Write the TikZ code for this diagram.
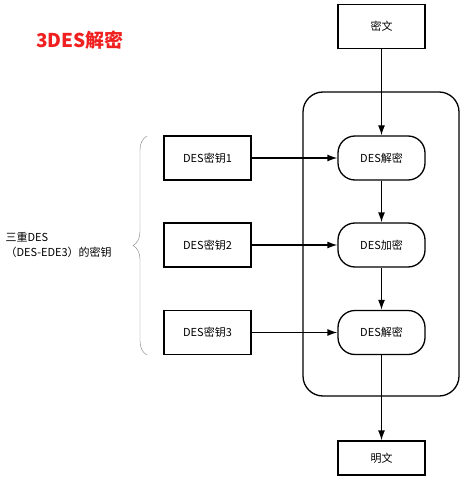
\documentclass[tikz,border=0pt]{standalone}
\usepackage{fontspec}
\setmainfont{Noto Sans CJK SC}
\usetikzlibrary{positioning,arrows.meta,decorations.pathreplacing}
\definecolor{titlered}{RGB}{240,32,32}
\begin{document}
\begin{tikzpicture}[x=1pt,y=-1pt,
                    box/.style={rectangle,draw,line width=1.3pt,minimum width=87pt,minimum height=44pt,font=\fontsize{11}{13}\selectfont},
                    pill/.style={rectangle,rounded corners=17pt,draw,line width=1.3pt,minimum width=87pt,minimum height=44pt,font=\fontsize{11}{13}\selectfont},
                    flow/.style={-{Latex[length=10pt,width=7pt]},line width=1.3pt}
                   ]
  \useasboundingbox (0,0) rectangle (466,489);
  \node[font=\fontsize{19}{22}\selectfont\bfseries,text=titlered] (title) at (80,40) {3DES解密};

  \node[box] (cipher) at (381.5,26.5) {密文};
  \node[pill] (dec1) at (381.5,158) {DES解密};
  \node[pill] (enc) at (381.5,245) {DES加密};
  \node[pill] (dec2) at (381.5,332.5) {DES解密};
  \node[box,minimum height=34pt] (plain) at (381.5,458) {明文};

  \node[box] (key1) at (207.5,158) {DES密钥1};
  \node[box] (key2) at (207.5,245) {DES密钥2};
  \node[box] (key3) at (207.5,332.5) {DES密钥3};

  % the three DES stages
  \draw[line width=1.3pt,rounded corners=20pt] (303,92) rectangle (459,396);

  \coordinate (bt) at (147,136);
  \coordinate (bb) at (147,355);
  \draw[gray,decorate,decoration={brace,amplitude=14pt}] (bb) -- (bt);
  \node[anchor=west,align=left,font=\fontsize{11}{15}\selectfont] (keys) at (2,245) {三重DES\\（DES-EDE3）的密钥};

  \path%
   (cipher) edge [flow] (dec1)
   (dec1) edge [flow] (enc)
   (enc) edge [flow] (dec2)
   (dec2) edge [flow] (plain)
   (key1) edge [flow] (dec1)
   (key2) edge [flow] (enc)
   (key3) edge [flow] (dec2);
\end{tikzpicture}
\end{document}
